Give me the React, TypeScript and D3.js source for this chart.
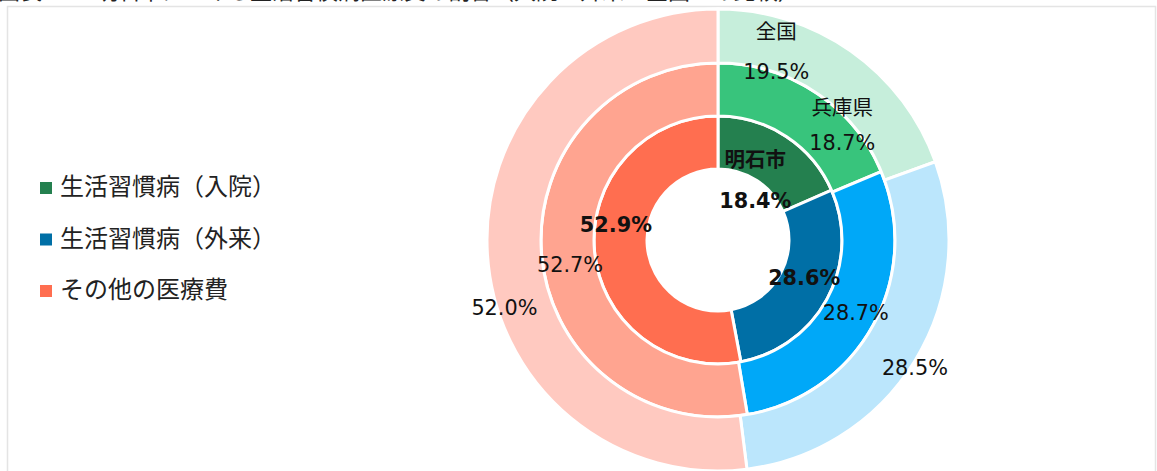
import React from "react";
import * as d3 from "d3";

// 区分（凡例）
const categories = ["生活習慣病（入院）", "生活習慣病（外来）", "その他の医療費"];

// 各リングの値（内側から）
const akashiValues = [18.4, 28.6, 52.9];
const hyogoValues = [18.7, 28.7, 52.7];
const zenkokuValues = [19.5, 28.5, 52.0];

const ringNames = ["明石市", "兵庫県", "全国"];

const title = "図表3-5　明石市における生活習慣病医療費の割合（入院・外来：全国との比較）";

// colours per ring (inner -> outer)
const ringColors = [
  ["#24804f", "#006fa6", "#ff6e50"],
  ["#38c47c", "#00a8f8", "#ffa490"],
  ["#c6eedb", "#bbe6fc", "#ffc9c0"],
];

// label nudges from the arc centroid, [dx, dy]
const labelNudge = [
  [[-16, 21], [0, -8], [-5, -24]],
  [[41, 10], [6, 0], [2, 12]],
  [[-59, -22], [23, 21], [-10, 55]],
];
const nameGap = [43, 37, 42];

const W = 1157;
const H = 471;
const cx = 718;
const cy = 240;
const radii = [71, 124, 177, 231];
const font = "'DejaVu Sans', 'Noto Sans CJK JP', sans-serif";
const jpFont = "'Noto Sans CJK JP', sans-serif";

export default function App() {
  const rings = [akashiValues, hyogoValues, zenkokuValues];
  const pie = d3.pie<number>().sort(null).value((d) => d);

  return (
    <svg
      width={W}
      height={H}
      style={{ position: "absolute", left: 0, top: 0, display: "block" }}
    >
      <rect x={0} y={0} width={W} height={H} fill="#fff" />
      <text x={-2} y={-1.5} fontFamily={jpFont} fontSize={22} fill="#222">
        {title}
      </text>
      <rect
        x={7.5}
        y={6.5}
        width={1148}
        height={H + 10}
        fill="#fff"
        stroke="#e4e4e4"
        strokeWidth={1.5}
      />

      <g transform={`translate(${cx},${cy})`}>
        {rings.map((vals, ri) => {
          const arc = d3
            .arc<d3.PieArcDatum<number>>()
            .innerRadius(radii[ri])
            .outerRadius(radii[ri + 1]);
          return (
            <g key={ri}>
              {pie(vals).map((a, i) => (
                <path
                  key={i}
                  d={arc(a) || ""}
                  fill={ringColors[ri][i]}
                  stroke="#fff"
                  strokeWidth={3}
                />
              ))}
            </g>
          );
        })}
        {rings.map((vals, ri) => {
          const arc = d3
            .arc<d3.PieArcDatum<number>>()
            .innerRadius(radii[ri])
            .outerRadius(radii[ri + 1]);
          const bold = ri === 0;
          return (
            <g key={"l" + ri}>
              {pie(vals).map((a, i) => {
                const [x0, y0] = arc.centroid(a);
                const x = x0 + labelNudge[ri][i][0];
                const y = y0 + labelNudge[ri][i][1];
                const txt = d3.format(".1f")(vals[i]) + "%";
                if (i === 0) {
                  return (
                    <g key={i}>
                      <text
                        x={x}
                        y={y - nameGap[ri] / 2}
                        textAnchor="middle"
                        dominantBaseline="central"
                        fontFamily={jpFont}
                        fontSize={20.5}
                        fontWeight={bold ? 700 : 400}
                        fill="#111"
                      >
                        {ringNames[ri]}
                      </text>
                      <text
                        x={x}
                        y={y + nameGap[ri] / 2}
                        textAnchor="middle"
                        dominantBaseline="central"
                        fontFamily={font}
                        fontSize={20.8}
                        fontWeight={bold ? 700 : 400}
                        fill="#111"
                      >
                        {txt}
                      </text>
                    </g>
                  );
                }
                return (
                  <text
                    key={i}
                    x={x}
                    y={y}
                    textAnchor="middle"
                    dominantBaseline="central"
                    fontFamily={font}
                    fontSize={20.8}
                    fontWeight={bold ? 700 : 400}
                    fill="#111"
                  >
                    {txt}
                  </text>
                );
              })}
            </g>
          );
        })}
      </g>

      <g transform="translate(40,182)">
        {categories.map((c, i) => (
          <g key={c} transform={`translate(0,${i * 51.5})`}>
            <rect width={12} height={12} fill={ringColors[0][i]} />
            <text
              x={20}
              y={2.5}
              dominantBaseline="central"
              fontFamily={jpFont}
              fontSize={24}
              fill="#222"
            >
              {c}
            </text>
          </g>
        ))}
      </g>
    </svg>
  );
}
